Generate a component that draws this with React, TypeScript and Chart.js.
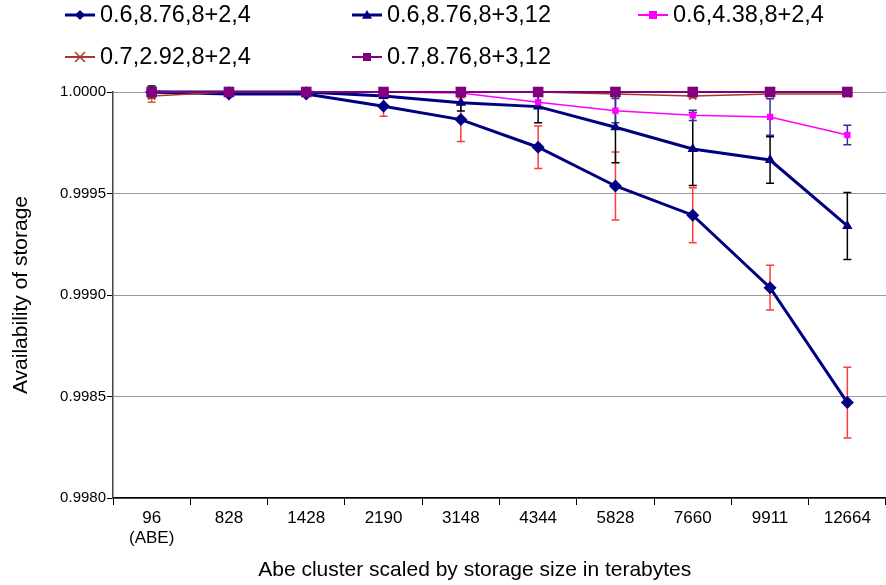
import React, { useEffect, useRef } from "react";
import { Chart, registerables } from "chart.js";

Chart.register(...registerables);

const categories: (string | string[])[] = [
  ["96", "(ABE)"], "828", "1428", "2190", "3148", "4344", "5828", "7660", "9911", "12664",
];

const seriesNames = [
  "0.6,8.76,8+2,4",
  "0.6,8.76,8+3,12",
  "0.6,4.38,8+2,4",
  "0.7,2.92,8+2,4",
  "0.7,8.76,8+3,12",
];

const s1Values = [1.0, 0.99999, 0.99999, 0.99993, 0.999864, 0.999728, 0.999537, 0.999393, 0.999036, 0.99847];
const s2Values = [1.0, 1.0, 1.0, 0.99998, 0.999947, 0.999928, 0.999826, 0.999719, 0.999665, 0.99934];
const s3Values = [1.0, 1.0, 1.0, 1.0, 0.999995, 0.99995, 0.999908, 0.999885, 0.999877, 0.999788];
const s4Values = [0.99998, 1.0, 1.0, 1.0, 1.0, 1.0, 0.99999, 0.99998, 0.99999, 0.99999];
const s5Values = [1.0, 1.0, 1.0, 1.0, 1.0, 1.0, 1.0, 1.0, 1.0, 1.0];

const s1Errors = [0.00002, 0.00001, 0.00001, 0.00005, 0.000108, 0.000105, 0.000167, 0.000135, 0.00011, 0.000174];
const s2Errors = [0.00003, 0.0, 0.0, 0.00001, 0.00004, 0.00008, 0.000174, 0.00018, 0.000115, 0.000165];
const s3Errors = [0.0, 0.0, 0.0, 0.0, 0.00001, 0.00003, 0.00006, 0.000025, 0.00009, 0.000048];
const s4Errors = [0.00003, 0.0, 0.0, 0.0, 0.0, 0.0, 0.00001, 0.00001, 0.00001, 0.00001];

const yTicks = [0.998, 0.9985, 0.999, 0.9995, 1.0];

const colors = ["#000080", "#000080", "#FF00FF", "#A33A2A", "#800080"];
const errColors = ["#FF3b3b", "#000000", "#33339a", "#D06010", ""];

const FONT = "'Liberation Sans', Arial, sans-serif";

function drawMarker(ctx: CanvasRenderingContext2D, style: string, x: number, y: number, r: number, color: string) {
  ctx.save();
  ctx.fillStyle = color;
  ctx.strokeStyle = color;
  ctx.beginPath();
  if (style === "diamond") {
    ctx.moveTo(x, y - r);
    ctx.lineTo(x + r, y);
    ctx.lineTo(x, y + r);
    ctx.lineTo(x - r, y);
    ctx.closePath();
    ctx.fill();
  } else if (style === "triangle") {
    ctx.moveTo(x, y - r);
    ctx.lineTo(x + r, y + r * 0.75);
    ctx.lineTo(x - r, y + r * 0.75);
    ctx.closePath();
    ctx.fill();
  } else if (style === "square") {
    ctx.rect(x - r, y - r, 2 * r, 2 * r);
    ctx.fill();
  } else if (style === "cross") {
    ctx.lineWidth = 1.5;
    ctx.moveTo(x - r, y - r);
    ctx.lineTo(x + r, y + r);
    ctx.moveTo(x + r, y - r);
    ctx.lineTo(x - r, y + r);
    ctx.stroke();
  }
  ctx.restore();
}

const errorBarPlugin = {
  id: "errorBars",
  beforeDatasetsDraw(chart: any) {
    const { ctx } = chart;
    const xs = chart.scales.x;
    const ys = chart.scales.y;
    const sets = [
      { v: s1Values, e: s1Errors, c: errColors[0] },
      { v: s2Values, e: s2Errors, c: errColors[1] },
      { v: s3Values, e: s3Errors, c: errColors[2] },
      { v: s4Values, e: s4Errors, c: errColors[3] },
    ];
    ctx.save();
    sets.forEach((s) => {
      ctx.strokeStyle = s.c;
      ctx.lineWidth = 1.5;
      s.v.forEach((val, i) => {
        const err = s.e[i];
        if (!err) return;
        const x = xs.getPixelForValue(i);
        const yTop = ys.getPixelForValue(val + err);
        const yBot = ys.getPixelForValue(val - err);
        ctx.beginPath();
        ctx.moveTo(x, yTop);
        ctx.lineTo(x, yBot);
        ctx.moveTo(x - 4, yTop);
        ctx.lineTo(x + 4, yTop);
        ctx.moveTo(x - 4, yBot);
        ctx.lineTo(x + 4, yBot);
        ctx.stroke();
      });
    });
    ctx.restore();
  },
};

const legendPlugin = {
  id: "customLegend",
  afterDraw(chart: any) {
    const { ctx } = chart;
    const items = [
      { name: seriesNames[0], c: colors[0], m: "diamond", x: 65, y: 15, lw: 3 },
      { name: seriesNames[1], c: colors[1], m: "triangle", x: 352, y: 15, lw: 3 },
      { name: seriesNames[2], c: colors[2], m: "square", x: 638, y: 15, lw: 2 },
      { name: seriesNames[3], c: colors[3], m: "cross", x: 65, y: 57, lw: 2 },
      { name: seriesNames[4], c: colors[4], m: "square", x: 352, y: 57, lw: 2 },
    ];
    ctx.save();
    items.forEach((it) => {
      ctx.strokeStyle = it.c;
      ctx.lineWidth = it.lw;
      ctx.beginPath();
      ctx.moveTo(it.x, it.y);
      ctx.lineTo(it.x + 30, it.y);
      ctx.stroke();
      drawMarker(ctx, it.m, it.x + 15, it.y, it.m === "square" ? 4 : 5, it.c);
      ctx.fillStyle = "#000";
      ctx.font = `23.5px ${FONT}`;
      ctx.textBaseline = "middle";
      ctx.textAlign = "left";
      ctx.fillText(it.name, it.x + 35, it.y + 1);
    });
    const area = chart.chartArea;
    ctx.font = `21px ${FONT}`;
    ctx.textAlign = "center";
    ctx.fillText("Abe cluster scaled by storage size in terabytes", area.left + (area.right - area.left) * 0.468, 570);
    ctx.restore();
  },
};

export default function App() {
  const ref = useRef<HTMLCanvasElement>(null);
  useEffect(() => {
    if (!ref.current) return;
    const mk = (data: number[], i: number, style: string, radius: number, width: number, order: number) => ({
      label: seriesNames[i],
      data,
      borderColor: colors[i],
      backgroundColor: colors[i],
      borderWidth: width,
      pointStyle: style,
      pointRadius: radius,
      pointBorderWidth: style === "crossRot" ? 1.5 : 0,
      pointBorderColor: colors[i],
      pointBackgroundColor: colors[i],
      tension: 0,
      clip: false as any,
      order,
    });
    const chart = new Chart(ref.current, {
      type: "line",
      data: {
        labels: categories,
        datasets: [
          mk(s1Values, 0, "rectRot", 6.5, 3, 4),
          mk(s2Values, 1, "triangle", 6, 3, 3),
          mk(s3Values, 2, "rect", 4.5, 1.5, 2),
          mk(s4Values, 3, "crossRot", 5, 1.5, 1),
          mk(s5Values, 4, "rect", 7.5, 2, 0),
        ],
      },
      options: {
        animation: false,
        responsive: false,
        layout: { autoPadding: false, padding: { top: 92, left: 0, right: 0, bottom: 0 } },
        plugins: { legend: { display: false }, tooltip: { enabled: false } },
        scales: {
          x: {
            type: "category",
            offset: true,
            grid: { display: true, drawOnChartArea: false, offset: true, tickLength: 7, color: "#000", lineWidth: 1 },
            border: { color: "#000", width: 1.5 },
            ticks: { color: "#000", font: { family: FONT, size: 17 }, padding: 3, maxRotation: 0, autoSkip: false },
            afterFit: (s: any) => { s.height = 87; s.paddingLeft = 0; s.paddingRight = 0; },
          },
          y: {
            min: yTicks[0],
            max: yTicks[yTicks.length - 1],
            afterBuildTicks: (s: any) => { s.ticks = yTicks.map((v) => ({ value: v })); },
            grid: { color: "#999", lineWidth: 1, tickColor: "#000", tickLength: 6 },
            border: { color: "#444", width: 1.5 },
            ticks: { color: "#000", font: { family: FONT, size: 15 }, padding: 1, callback: (v: any) => Number(v).toFixed(4) },
            title: { display: true, text: "Availability of storage", color: "#000", font: { family: FONT, size: 21 }, padding: { top: 9, bottom: 0 } },
            afterFit: (s: any) => { s.width = 113; s.paddingTop = 0; s.paddingBottom = 0; },
          },
        },
      },
      plugins: [errorBarPlugin, legendPlugin],
    });
    return () => chart.destroy();
  }, []);
  return (
    <div style={{ position: "fixed", left: 0, top: 0, width: 886, height: 585, background: "#fff" }}>
      <canvas ref={ref} width={886} height={585} />
    </div>
  );
}
